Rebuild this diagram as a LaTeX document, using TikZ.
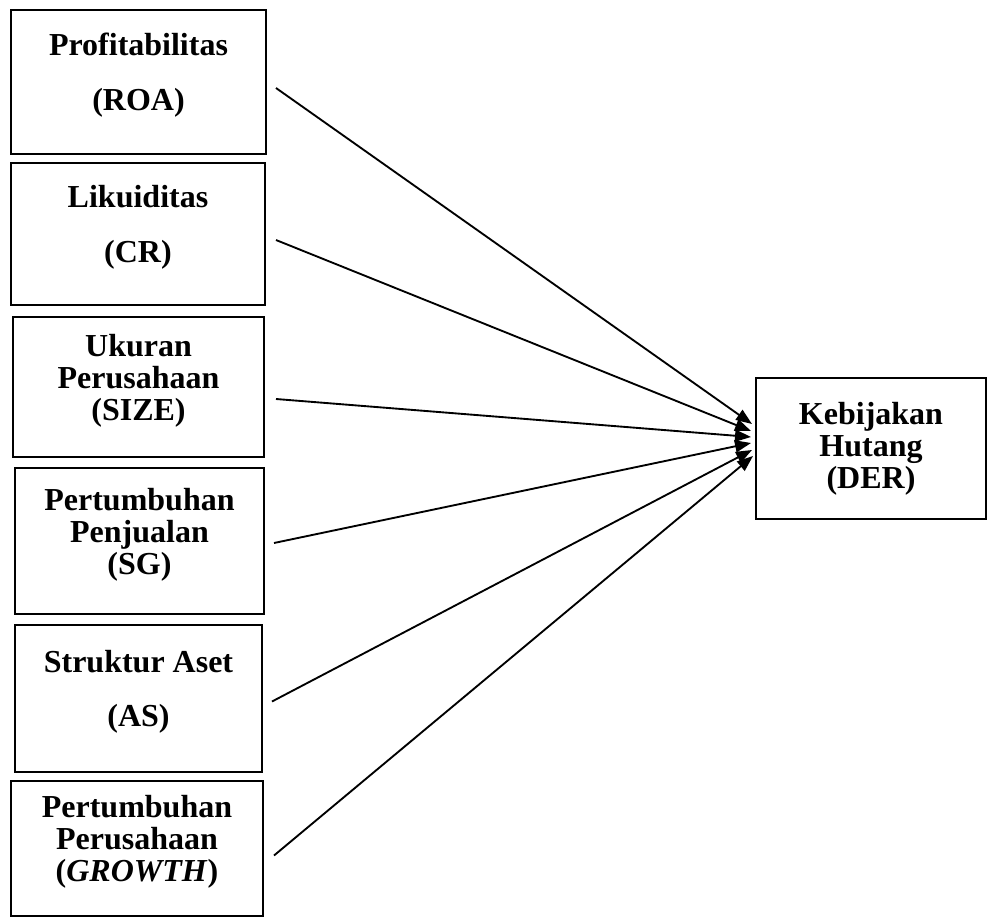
\documentclass[tikz,border=0pt]{standalone}
\usepackage{fontspec}
\setmainfont{Liberation Serif}
\usetikzlibrary{arrows.meta}
\tikzset{
  varbox/.style={draw, line width=1.5pt, align=center, inner sep=0pt,
    font=\bfseries\fontsize{24}{24}\selectfont},
  leftbox/.style={varbox, text depth=15pt},
  effect/.style={line width=1.4pt, -{Triangle[length=12pt,width=9pt]}}
}
\begin{document}
\begin{tikzpicture}[x=0.75pt,y=0.75pt,yscale=-1,xscale=1]
	\useasboundingbox (0,0) rectangle (990,918);

	%Shape: Rectangle [id:roa]
	\node[leftbox, minimum width=191.25pt, minimum height=108pt] (roa) at (138.5,82) {Profitabilitas\\[17pt](ROA)};
	%Shape: Rectangle [id:cr]
	\node[leftbox, minimum width=190.5pt, minimum height=106.5pt] (cr) at (138,234) {Likuiditas\\[17pt](CR)};
	%Shape: Rectangle [id:size]
	\node[leftbox, minimum width=188.25pt, minimum height=105pt] (size) at (138.5,387) {Ukuran\\Perusahaan\\(SIZE)};
	%Shape: Rectangle [id:sg]
	\node[leftbox, minimum width=186.75pt, minimum height=109.5pt] (sg) at (139.5,541) {Pertumbuhan\\Penjualan\\(SG)};
	%Shape: Rectangle [id:as]
	\node[leftbox, minimum width=185.25pt, minimum height=110.25pt] (as) at (138.5,698.5) {Struktur Aset\\[17pt](AS)};
	%Shape: Rectangle [id:growth]
	\node[leftbox, minimum width=189pt, minimum height=101.25pt] (growth) at (137,848.5) {Pertumbuhan\\Perusahaan\\(\textit{GROWTH})};

	%Shape: Rectangle [id:der]
	\node[varbox, minimum width=172.5pt, minimum height=105.75pt] (der) at (871,448.5) {Kebijakan\\Hutang\\(DER)};

	% Arrow tips
	\coordinate (t1) at (752,424);
	\coordinate (t2) at (751,431);
	\coordinate (t3) at (751,437);
	\coordinate (t4) at (751,443);
	\coordinate (t5) at (752,450);
	\coordinate (t6) at (753,456);

	%Straight Lines [id:roa-der]
	\draw[effect] ([shift={(9,6)}]roa.east) -- (t1);
	%Straight Lines [id:cr-der]
	\draw[effect] ([shift={(10,6)}]cr.east) -- (t2);
	%Straight Lines [id:size-der]
	\draw[effect] ([shift={(11,12)}]size.east) -- (t3);
	%Straight Lines [id:sg-der]
	\draw[effect] ([shift={(9,2)}]sg.east) -- (t4);
	%Straight Lines [id:as-der]
	\draw[effect] ([shift={(9,3)}]as.east) -- (t5);
	%Straight Lines [id:growth-der]
	\draw[effect] ([shift={(10,7)}]growth.east) -- (t6);
\end{tikzpicture}
\end{document}
